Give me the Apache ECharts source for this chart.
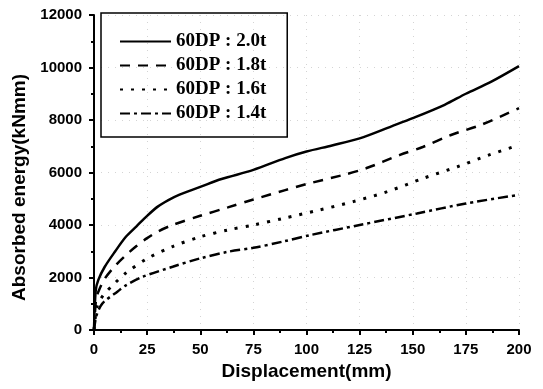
<!DOCTYPE html>
<html>
<head>
<meta charset="utf-8">
<script src="https://cdn.jsdelivr.net/npm/echarts@6/dist/echarts.min.js"></script>
<style>
  html, body { margin: 0; padding: 0; background: #fff; }
  #chart { width: 543px; height: 389px; }
</style>
</head>
<body>
<div id="chart"></div>
<script>
// 图例名称
const seriesNames = ["60DP : 2.0t", "60DP : 1.8t", "60DP : 1.6t", "60DP : 1.4t"];

// 位移 (mm) / 吸收能量 (kNmm)
const disp20 = [0, 0.8, 2, 5, 10, 15, 20, 25, 30, 35, 40, 50, 60, 75, 90, 100, 112, 125, 140, 150, 165, 175, 187, 200];
const energy20 = [0, 1500, 1900, 2400, 3000, 3550, 3950, 4350, 4700, 4950, 5150, 5450, 5750, 6100, 6550, 6800, 7030, 7300, 7760, 8070, 8580, 9000, 9460, 10050];

const disp18 = [0, 1, 2, 5, 10, 15, 20, 25, 30, 37, 50, 63, 75, 90, 100, 117, 128, 144, 155, 168, 182, 200];
const energy18 = [0, 1200, 1450, 1950, 2450, 2850, 3200, 3500, 3750, 4000, 4350, 4670, 4970, 5330, 5560, 5900, 6160, 6670, 6980, 7430, 7810, 8450];

const disp16 = [0, 1.5, 4.4, 10, 15, 25, 37, 50, 63, 75, 89, 106, 122, 138, 155, 171, 186, 200];
const energy16 = [0, 900, 1330, 1800, 2170, 2720, 3180, 3550, 3810, 4000, 4250, 4570, 4890, 5270, 5780, 6220, 6670, 7050];

const disp14 = [0, 1, 3, 5, 11, 15, 23, 37, 50, 63, 75, 89, 102, 125, 152, 175, 200];
const energy14 = [0, 500, 900, 1100, 1460, 1700, 2030, 2410, 2730, 2980, 3130, 3370, 3620, 4000, 4440, 4820, 5150];

// 刻度
const xTicks = [0, 25, 50, 75, 100, 125, 150, 175, 200];
const yTicks = [0, 2000, 4000, 6000, 8000, 10000, 12000];

function pairs(xs, ys) {
  return xs.map((x, i) => [x, ys[i]]);
}

const axisFont = { fontFamily: "Liberation Sans", fontWeight: "bold", color: "#000" };
const gridLine = { show: true, lineStyle: { color: "#d4d4d4", type: [1, 6], width: 1 } };

let myChart = echarts.init(document.getElementById("chart"));
let option = {
  animation: false,
  backgroundColor: "#fff",
  grid: { left: 94, right: 24, top: 15, bottom: 59 },
  legend: {
    left: 101,
    top: 13,
    orient: "vertical",
    borderColor: "#000",
    borderWidth: 1.5,
    padding: [19, 21, 14, 18],
    itemWidth: 51,
    itemHeight: 14,
    itemGap: 5,
    icon: "inherit",
    itemStyle: { opacity: 0 },
    textStyle: {
      fontFamily: "Liberation Serif",
      fontWeight: "bold",
      fontSize: 19,
      lineHeight: 19,
      color: "#000"
    },
    data: seriesNames
  },
  xAxis: {
    type: "value",
    min: xTicks[0],
    max: xTicks[xTicks.length - 1],
    interval: 25,
    name: "Displacement(mm)",
    nameLocation: "middle",
    nameGap: 24,
    nameTextStyle: Object.assign({ fontSize: 19 }, axisFont),
    axisLine: { show: true, lineStyle: { color: "#000", width: 2 } },
    axisTick: { show: true, length: 5, lineStyle: { color: "#000", width: 2 } },
    minorTick: { show: true, splitNumber: 2, length: 3, lineStyle: { color: "#000", width: 2 } },
    axisLabel: Object.assign({ fontSize: 15, margin: 12 }, axisFont),
    splitLine: gridLine
  },
  yAxis: {
    type: "value",
    min: yTicks[0],
    max: yTicks[yTicks.length - 1],
    interval: 2000,
    name: "Absorbed energy(kNmm)",
    nameLocation: "middle",
    nameGap: 54,
    nameTextStyle: Object.assign({ fontSize: 19, padding: [0, 30, 0, 0] }, axisFont),
    axisLine: { show: true, lineStyle: { color: "#000", width: 2 } },
    axisTick: { show: true, length: 5, lineStyle: { color: "#000", width: 2 } },
    minorTick: { show: true, splitNumber: 2, length: 3, lineStyle: { color: "#000", width: 2 } },
    axisLabel: Object.assign({ fontSize: 15, margin: 12, formatter: (v) => String(v) }, axisFont),
    splitLine: gridLine
  },
  series: [
    {
      name: seriesNames[0], type: "line", symbol: "none", smooth: 0.3,
      data: pairs(disp20, energy20),
      itemStyle: { color: "#000" },
      lineStyle: { color: "#000", width: 2.5, type: "solid" }
    },
    {
      name: seriesNames[1], type: "line", symbol: "none", smooth: 0.3,
      data: pairs(disp18, energy18),
      itemStyle: { color: "#000" },
      lineStyle: { color: "#000", width: 2.5, type: [10, 8] }
    },
    {
      name: seriesNames[2], type: "line", symbol: "none", smooth: 0.3,
      data: pairs(disp16, energy16),
      itemStyle: { color: "#000" },
      lineStyle: { color: "#000", width: 3, type: [3, 8] }
    },
    {
      name: seriesNames[3], type: "line", symbol: "none", smooth: 0.3,
      data: pairs(disp14, energy14),
      itemStyle: { color: "#000" },
      lineStyle: { color: "#000", width: 2.5, type: [10, 4, 3, 4] }
    }
  ]
};
myChart.setOption(option);
window.addEventListener("resize", function () {
  myChart.resize();
});
</script>
</body>
</html>
